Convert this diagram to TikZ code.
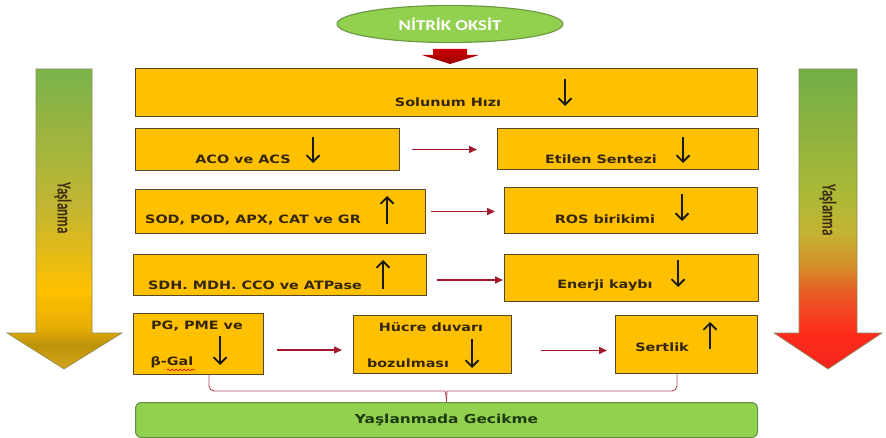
\documentclass[tikz,border=0pt]{standalone}
\usepackage{fontspec}
\newfontfamily\boxfont{DejaVu Sans}[FakeStretch=1.25]
\newfontfamily\ovalfont{Carlito}[FakeStretch=1.25]
\newfontfamily\sidefont{Carlito}[FakeStretch=0.65]
\usepackage{tikz}
\usetikzlibrary{
  arrows.meta,
  positioning,
  shapes.geometric,
  calc,
  decorations.pathmorphing,
}

\definecolor{boxfill}{HTML}{FFC000}
\definecolor{boxline}{HTML}{55462C}
\definecolor{txtcol}{HTML}{33260D}
\definecolor{flowred}{HTML}{A3192B}
\definecolor{bracketred}{HTML}{B0485A}
\definecolor{ovalfill}{HTML}{92D050}
\definecolor{ovalline}{HTML}{6F9B45}
\definecolor{goalline}{HTML}{5F8F45}
\definecolor{goaltext}{HTML}{1E3B10}
\definecolor{sidetext}{HTML}{3A2A10}
\definecolor{sideline}{HTML}{8C8C5A}
% left arrow colours
\definecolor{tipgold}{HTML}{D3A51C}
\definecolor{darkgold}{HTML}{BE9208}
\definecolor{midgold}{HTML}{E7AE05}
\definecolor{olivegold}{HTML}{C3B532}
\definecolor{agegreen}{HTML}{79B44B}
% right arrow colours
\definecolor{tipred}{HTML}{F2261B}
\definecolor{agered}{HTML}{FF2C1C}
\definecolor{redorange}{HTML}{E65C24}
\definecolor{ageorange}{HTML}{D58E2A}
\definecolor{yelgreen}{HTML}{ABB836}
\definecolor{rightgreen}{HTML}{72AE48}

\pgfdeclareverticalshading{agegold}{100bp}{
  color(0bp)=(tipgold); color(25bp)=(tipgold); color(29bp)=(darkgold);
  color(32bp)=(midgold); color(38bp)=(boxfill); color(52bp)=(olivegold);
  color(75bp)=(agegreen); color(100bp)=(agegreen)}
\pgfdeclareverticalshading{agered}{100bp}{
  color(0bp)=(tipred); color(25bp)=(tipred); color(31bp)=(agered);
  color(38bp)=(redorange); color(42bp)=(ageorange); color(48bp)=(olivegold);
  color(54bp)=(yelgreen); color(75bp)=(rightgreen); color(100bp)=(rightgreen)}

\begin{document}
\begin{tikzpicture}[
  x=1pt, y=-1pt,
  font={\fontsize{11.5}{13}\boxfont\bfseries},
  box/.style={draw=boxline, fill=boxfill, line width=1pt, anchor=north west, inner sep=0pt},
  lbl/.style={text=txtcol, inner sep=0pt},
  trend/.style={draw=black!90, line width=1.8pt, -{Straight Barb[length=6.5pt, width=13pt]}},
  flow/.style={draw=flowred, line width=1.5pt, -{Triangle[length=8pt, width=7pt]}},
  bracket/.style={draw=bracketred, line width=0.9pt},
  side/.style={rotate=-90, text=sidetext, inner sep=0pt, font={\fontsize{20}{22}\sidefont\bfseries}},
]
  \path[fill=white, use as bounding box] (0,0) rectangle (886,438);

  % Side arrows
  \shadedraw[shading=agegold, draw=sideline, line width=0.6pt]
    (36,69) -- (92,69) -- (92,333) -- (122,333) -- (64,369) -- (7,333) -- (36,333) -- cycle;
  \shadedraw[shading=agered, draw=sideline, line width=0.6pt]
    (799,69) -- (857,69) -- (857,333) -- (882,333) -- (828,369) -- (774,333) -- (799,333) -- cycle;
  \node[side] (ageleft)  at (63,208)  {Yaşlanma};
  \node[side] (ageright) at (828,210) {Yaşlanma};

  % Nitric oxide
  \node[ellipse, draw=ovalline, line width=1.2pt, fill=ovalfill, minimum width=226pt,
        minimum height=37pt, text=white, font={\fontsize{15}{18}\ovalfont\bfseries}]
        (nitrik) at (450,24) {NİTRİK OKSİT};
  \shade[top color=red!80!black, bottom color=red!60!black]
    (433,49) -- (467,49) -- (467,55) -- (479,55) -- (450,64) -- (422,55) -- (433,55) -- cycle;

  % Boxes
  \node[box, minimum width=622pt, minimum height=48pt] (solunum) at (135,68)  {};
  \node[box, minimum width=264pt, minimum height=42pt] (aco)     at (135,128) {};
  \node[box, minimum width=261pt, minimum height=41pt] (etilen)  at (497,128) {};
  \node[box, minimum width=290pt, minimum height=44pt] (sod)     at (135,189) {};
  \node[box, minimum width=253pt, minimum height=46pt] (ros)     at (504,187) {};
  \node[box, minimum width=293pt, minimum height=41pt] (sdh)     at (133,254) {};
  \node[box, minimum width=254pt, minimum height=47pt] (enerji)  at (504,254) {};
  \node[box, minimum width=130pt, minimum height=61pt] (pg)      at (133,313) {};
  \node[box, minimum width=158pt, minimum height=58pt] (hucre)   at (353,315) {};
  \node[box, minimum width=142pt, minimum height=58pt] (sertlik) at (615,315) {};

  % Box texts
  \node[lbl] (solunumtxt) at (448,102) {Solunum Hızı};
  \node[lbl] (acotxt)     at (243,159) {ACO ve ACS};
  \node[lbl] (etilentxt)  at (601,159) {Etilen Sentezi};
  \node[lbl] (sodtxt)     at (253,220) {SOD, POD, APX, CAT ve GR};
  \node[lbl] (rostxt)     at (605,219) {ROS birikimi};
  \node[lbl] (sdhtxt)     at (255,285) {SDH. MDH. CCO ve ATPase};
  \node[lbl] (enerjitxt)  at (605,285) {Enerji kaybı};
  \node[lbl] (pgtxt)      at (197,326) {PG, PME ve};
  \node[lbl] (galtxt)     at (172,362) {β-Gal};
  \node[lbl] (hucretxt)   at (431,327) {Hücre duvarı};
  \node[lbl] (bozultxt)   at (408,363) {bozulması};
  \node[lbl] (sertliktxt) at (662,347) {Sertlik};
  \draw[red!85!black, line width=0.6pt, decorate,
        decoration={snake, amplitude=0.9pt, segment length=4pt}] (167,370) -- (195,370);

  % Up and down marks
  \draw[trend] (565,79)  -- ++(0,27);
  \draw[trend] (313,137) -- ++(0,26);
  \draw[trend] (683,137) -- ++(0,26);
  \draw[trend] (387,224) -- ++(0,-28);
  \draw[trend] (682,194) -- ++(0,27);
  \draw[trend] (383,289) -- ++(0,-29);
  \draw[trend] (678,260) -- ++(0,27);
  \draw[trend] (220,336) -- ++(0,29);
  \draw[trend] (472,339) -- ++(0,29);
  \draw[trend] (710,349) -- ++(0,-27);

  % Connectors
  \draw[flow, shorten <=12pt, shorten >=20pt] (aco.east) -- (aco.east -| etilen.west);
  \draw[flow, shorten <=5pt, shorten >=9pt] (sod.east) -- (sod.east -| ros.west);
  \draw[flow, shorten <=10pt, shorten >=1pt] ([yshift=-5pt]sdh.east) -- ([yshift=-5pt]sdh.east -| enerji.west);
  \draw[flow, shorten <=13pt, shorten >=11pt] ([yshift=-6pt]pg.east) -- ([yshift=-6pt]pg.east -| hucre.west);
  \draw[flow, shorten <=29pt, shorten >=8pt] ([yshift=-6pt]hucre.east) -- ([yshift=-6pt]hucre.east -| sertlik.west);

  % Result
  \node[box, draw=goalline, fill=ovalfill, rounded corners=6pt, anchor=north west,
        minimum width=622pt, minimum height=35pt, text=goaltext,
        font={\fontsize{12.3}{14}\boxfont\bfseries}] (gecikme) at (135,402) {Yaşlanmada Gecikme};
  \coordinate (join) at (446,391);
  \draw[bracket] ($(pg.south west)+(76,0)$) [rounded corners=5pt] |- ($(join)+(-6,0)$)
    [sharp corners] to[out=0, in=90] (gecikme.north);
  \draw[bracket] ($(sertlik.south west)+(62,0)$) [rounded corners=5pt] |- ($(join)+(6,0)$)
    [sharp corners] to[out=180, in=90] (gecikme.north);
\end{tikzpicture}
\end{document}
